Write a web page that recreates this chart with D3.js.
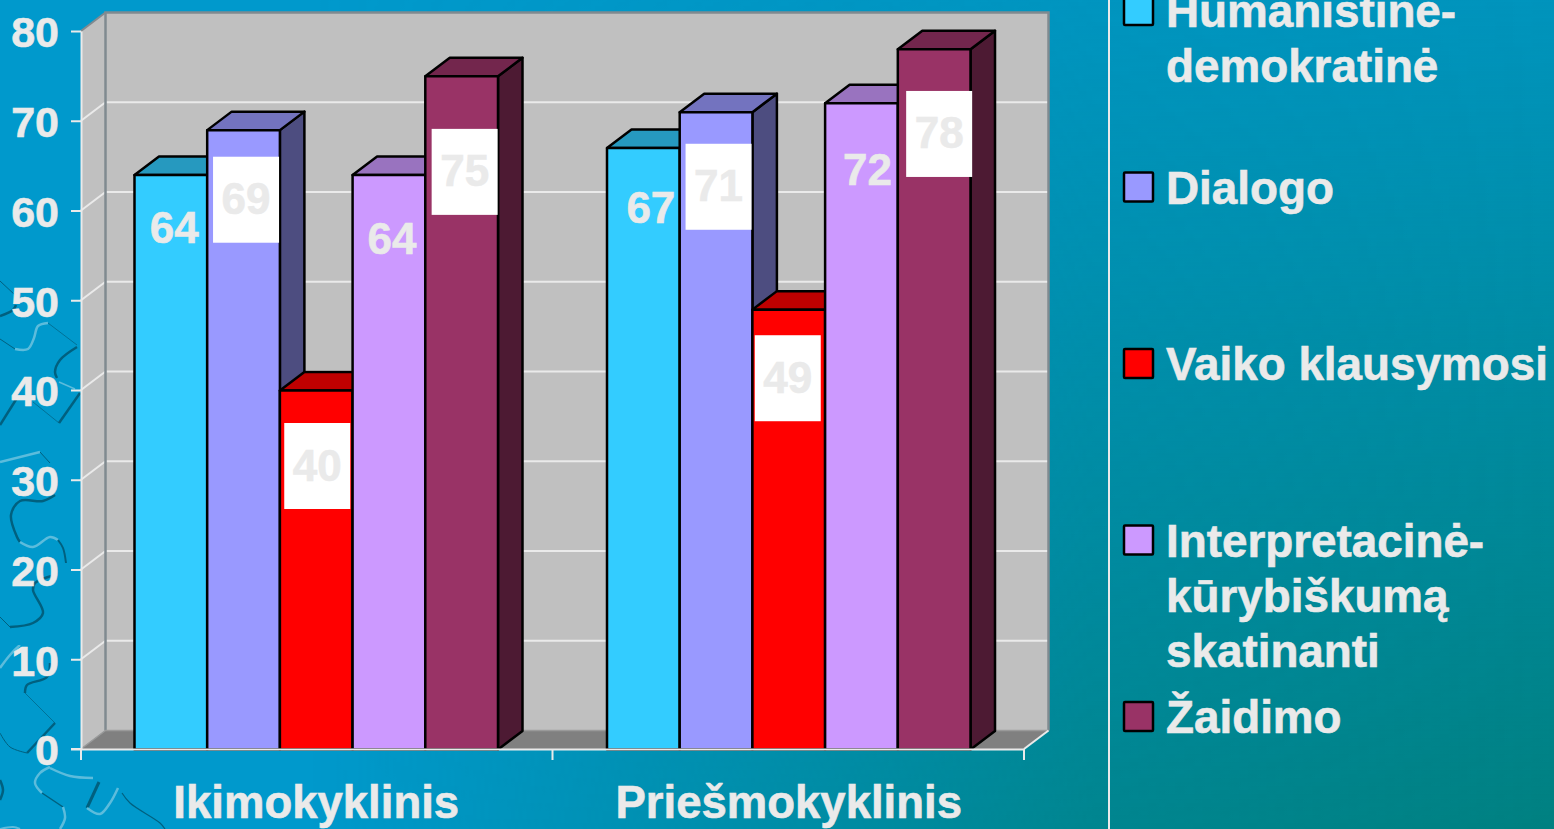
<!DOCTYPE html>
<html>

<head>
    <meta charset="utf-8">
    <style>
        html, body {
            margin: 0;
            padding: 0;
            overflow: hidden;
        }

        svg {
            display: block;
            font-family: 'Liberation Sans', Arial, sans-serif;
            font-weight: bold;
        }

        /* the reference glyphs are a bit heavier than plain bold */
        text {
            fill: #eaeaea;
            stroke: #eaeaea;
            stroke-width: 0.6px;
        }

        .y .domain, .y .tick line, .x .domain, .x .tick line {
            stroke: #eaeaea;
            stroke-width: 2px;
        }

        .y .tick text {
            font-size: 43px;
            fill: #eaeaea;
        }

        .x .tick text {
            font-size: 45.5px;
            fill: #eaeaea;
        }
    </style>
</head>

<body>
    <svg width="1554" height="829"></svg>
</body>

<script src="https://d3js.org/d3.v7.min.js"></script>

<script>
    // data
    let categories = ["Ikimokyklinis", "Priešmokyklinis"]
    let seriesNames = ["Humanistinė-demokratinė", "Dialogo", "Vaiko klausymosi", "Interpretacinė-kūrybiškumą skatinanti", "Žaidimo"]
    let ikimokyklinis = [64, 69, 40, 64, 75]
    let priesmokyklinis = [67, 71, 49, 72, 78]
    let yTicks = [0, 10, 20, 30, 40, 50, 60, 70, 80]
    let legendLines = [
        ["Humanistinė-", "demokratinė"],
        ["Dialogo"],
        ["Vaiko klausymosi"],
        ["Interpretacinė-", "kūrybiškumą", "skatinanti"],
        ["Žaidimo"]
    ]

    // styles and hand placed label offsets, kept away from the values
    let seriesColors = ["#33ccff", "#9999ff", "#ff0000", "#cc99ff", "#993366"]
    let labelOffsets = [
        [[3.5, 54], [2.5, 70], [1, 76], [3, 65], [3, 96]],
        [[7.5, 61], [2.5, 75], [-1, 69], [6, 68], [5, 85]]
    ]
    let labelBoxed = [
        [false, true, true, false, true],
        [false, true, true, false, true]
    ]

    let groupValues = [ikimokyklinis, priesmokyklinis]

    let width = 1554
    let height = 829
    let textColor = "#eaeaea"

    // plot box, front face. the back wall is moved by depth
    let plot = { left: 81, right: 1024, top: 31, bottom: 749 }
    let depth = { x: 24.5, y: 18.5 }

    let svg = d3.select("svg")
    let defs = svg.append("defs")

    // background gradient, blue top left going to teal in the lower right corner
    let gradX = defs.append("linearGradient").attr("id", "gradX")
    gradX.append("stop").attr("offset", 0.2).attr("stop-color", "#fff").attr("stop-opacity", 0)
    gradX.append("stop").attr("offset", 0.7).attr("stop-color", "#fff").attr("stop-opacity", 0.8)
    gradX.append("stop").attr("offset", 1).attr("stop-color", "#fff").attr("stop-opacity", 1)

    let gradY = defs.append("linearGradient").attr("id", "gradY")
        .attr("x1", 0).attr("x2", 0).attr("y1", 0).attr("y2", 1)
    gradY.append("stop").attr("offset", 0).attr("stop-color", "#008080").attr("stop-opacity", 0.2)
    gradY.append("stop").attr("offset", 1).attr("stop-color", "#008080").attr("stop-opacity", 1)

    defs.append("mask").attr("id", "fadeX")
        .append("rect")
        .attr("width", width)
        .attr("height", height)
        .style("fill", "url(#gradX)")

    svg.append("rect")
        .attr("width", width)
        .attr("height", height)
        .style("fill", "#0099cc")

    svg.append("rect")
        .attr("width", width)
        .attr("height", height)
        .attr("mask", "url(#fadeX)")
        .style("fill", "url(#gradY)")

    // puzzle pieces in the lower left corner of the slide
    let dark = "#00607f"
    let light = "#5cbcdc"
    let puzzle = [
        [dark, 1, [[0, 281], [15, 295]]],
        [dark, 2.5, [[0, 316], [13, 310], [16, 305]]],
        [dark, 1, [[0, 339], [15, 349]]],
        [light, 2.5, [[15, 349], [28, 349], [34, 338], [38, 326], [48, 323]]],
        [dark, 0.7, [[48, 323], [77, 345]]],
        [dark, 2.5, [[77, 347], [60, 360], [55, 372], [57, 378]]],
        [light, 1.5, [[59, 382], [75, 389]]],
        [dark, 2.5, [[80, 393], [59, 423]]],
        [dark, 0.7, [[59, 423], [33, 402]]],
        [dark, 2.5, [[17, 398], [0, 425]]],
        [light, 2.5, [[0, 462], [40, 452]]],
        [dark, 1, [[40, 452], [50, 463]]],
        [dark, 2.5, [[55, 495], [43, 501], [20, 501], [11, 515], [17, 537], [20, 542]]],
        [light, 2.5, [[20, 542], [33, 547], [50, 537], [58, 540]]],
        [dark, 2, [[58, 540], [63, 548], [66, 563]]],
        [dark, 2.5, [[55, 575], [35, 583], [33, 590], [43, 613], [33, 623], [10, 627]]],
        [dark, 1, [[0, 617], [10, 627]]],
        [light, 2.5, [[0, 668], [10, 655], [20, 645]]],
        [dark, 2.5, [[50, 663], [47, 677], [27, 685], [25, 693]]],
        [dark, 0.7, [[25, 693], [55, 723]]],
        [dark, 2.5, [[55, 723], [27, 753]]],
        [dark, 1, [[27, 753], [10, 747], [0, 733]]],
        [light, 2.5, [[50, 767], [40, 773], [35, 783], [42, 793]]],
        [dark, 1.5, [[42, 793], [63, 807]]],
        [light, 2.5, [[63, 807], [65, 818], [60, 829]]],
        [light, 2.5, [[50, 768], [70, 776], [93, 778]]],
        [dark, 3, [[99, 782], [87, 808]]],
        [light, 2.5, [[87, 808], [100, 814], [110, 803], [118, 788]]],
        [dark, 1.2, [[122, 793], [130, 803], [160, 823], [165, 829]]],
        [dark, 2.5, [[0, 780], [3, 790], [0, 800]]],
        [light, 2, [[0, 829], [13, 827], [20, 829]]]
    ]

    let puzzleLine = d3.line().curve(d3.curveCatmullRom)

    svg.append("g")
        .selectAll("path")
        .data(puzzle)
        .join("path")
        .attr("d", d => puzzleLine(d[2]))
        .style("fill", "none")
        .style("stroke", d => d[0])
        .style("stroke-width", d => d[1])

    // scales
    let y = d3.scaleLinear()
        .domain([0, 80])
        .range([plot.bottom, plot.top])

    let xGroup = d3.scaleBand()
        .domain(categories)
        .range([plot.left, plot.right])
        .paddingInner(0.2307)
        .paddingOuter(0.1132)

    let xBar = d3.scaleBand()
        .domain(seriesNames)
        .range([0, xGroup.bandwidth()])

    // walls and floor
    let poly = pts => "M" + pts.join("L") + "Z"
    let walls = svg.append("g")

    walls.append("path")
        .attr("d", poly([[plot.left, plot.top], [plot.left + depth.x, plot.top - depth.y], [plot.left + depth.x, plot.bottom - depth.y], [plot.left, plot.bottom]]))
        .style("fill", "#c0c0c0")

    walls.append("rect")
        .attr("x", plot.left + depth.x)
        .attr("y", plot.top - depth.y)
        .attr("width", plot.right - plot.left)
        .attr("height", plot.bottom - plot.top)
        .style("fill", "#c0c0c0")

    // gridlines on back and side wall
    let grid = svg.append("g")
    grid.selectAll(".back")
        .data(yTicks.slice(1, -1))
        .join("line")
        .attr("class", "back")
        .attr("x1", plot.left + depth.x)
        .attr("x2", plot.right + depth.x)
        .attr("y1", d => y(d) - depth.y)
        .attr("y2", d => y(d) - depth.y)
        .style("stroke", textColor)
        .style("stroke-width", "2px")

    grid.selectAll(".side")
        .data(yTicks.slice(1, -1))
        .join("line")
        .attr("class", "side")
        .attr("x1", plot.left)
        .attr("x2", plot.left + depth.x)
        .attr("y1", d => y(d))
        .attr("y2", d => y(d) - depth.y)
        .style("stroke", textColor)
        .style("stroke-width", "2px")

    walls.append("path")
        .attr("d", poly([[plot.left, plot.bottom], [plot.left + depth.x, plot.bottom - depth.y], [plot.right + depth.x, plot.bottom - depth.y], [plot.right, plot.bottom]]))
        .style("fill", "#808080")

    // wall edges
    let edges = svg.append("g")
        .style("fill", "none")
        .style("stroke", "#808a90")

    edges.append("path")
        .attr("d", d3.line()([[plot.left + depth.x, plot.bottom - depth.y], [plot.left + depth.x, plot.top - depth.y], [plot.right + depth.x, plot.top - depth.y], [plot.right + depth.x, plot.bottom - depth.y]]))
        .style("stroke-width", "2.5px")

    edges.append("path")
        .attr("d", d3.line()([[plot.left, plot.top], [plot.left + depth.x, plot.top - depth.y]]))
        .style("stroke-width", "2px")

    edges.append("path")
        .attr("d", d3.line()([[plot.left, plot.bottom], [plot.left + depth.x, plot.bottom - depth.y], [plot.right + depth.x, plot.bottom - depth.y]]))
        .style("stroke", "#9a9a9a")
        .style("stroke-width", "1.5px")

    // bars, one group per category. left to right so later bars cover earlier sides
    let bars = svg.append("g")
        .selectAll("g")
        .data(categories)
        .join("g")
        .attr("transform", d => `translate(${xGroup(d)},0)`)

    let barData = (c, i) => seriesNames.map((name, j) => ({ name, j, value: groupValues[i][j] }))

    // the bars sit a touch lower than the axis ticks in the original
    let oneBar = bars.selectAll(".bar")
        .data(barData)
        .join("g")
        .attr("class", "bar")
        .attr("transform", "translate(0,0.4)")
        .style("stroke", "#000")
        .style("stroke-width", "2.5px")
        .style("stroke-linejoin", "round")

    oneBar.append("path")
        .attr("d", d => {
            let x1 = xBar(d.name) + xBar.bandwidth()
            return poly([[x1, y(d.value)], [x1 + depth.x, y(d.value) - depth.y], [x1 + depth.x, y(0) - depth.y], [x1, y(0)]])
        })
        .style("fill", d => shade(seriesColors[d.j], 0.5))

    oneBar.append("path")
        .attr("d", d => {
            let x0 = xBar(d.name)
            let x1 = x0 + xBar.bandwidth()
            return poly([[x0, y(d.value)], [x0 + depth.x, y(d.value) - depth.y], [x1 + depth.x, y(d.value) - depth.y], [x1, y(d.value)]])
        })
        .style("fill", d => shade(seriesColors[d.j], 0.75))

    oneBar.append("rect")
        .attr("x", d => xBar(d.name))
        .attr("y", d => y(d.value))
        .attr("width", xBar.bandwidth())
        .attr("height", d => y(0) - y(d.value))
        .style("fill", d => seriesColors[d.j])

    function shade(color, k) {
        let c = d3.rgb(color)
        return d3.rgb(c.r * k, c.g * k, c.b * k).formatHex()
    }

    // axes
    let yAxisSettings = d3.axisLeft(y)
        .tickValues(yTicks)
        .tickSize(10)
        .tickSizeOuter(0)
        .tickPadding(12)

    svg.append("g")
        .attr("class", "y axis")
        .attr("transform", `translate(${plot.left},0)`)
        .call(yAxisSettings)
        .selectAll("text")
        .attr("dy", "0.37em")

    let xAxisSettings = d3.axisBottom(xGroup)
        .tickSize(0)
        .tickPadding(37)

    svg.append("g")
        .attr("class", "x axis")
        .attr("transform", `translate(0,${plot.bottom})`)
        .call(xAxisSettings)

    // ticks sit between the groups, not under them
    let boundary = [plot.left, (plot.left + plot.right) / 2, plot.right]
    svg.append("g")
        .selectAll("line")
        .data(boundary)
        .join("line")
        .attr("x1", d => d)
        .attr("x2", d => d)
        .attr("y1", plot.bottom)
        .attr("y2", plot.bottom + 11)
        .style("stroke", textColor)
        .style("stroke-width", "2px")

    svg.append("line")
        .attr("x1", plot.left - 10)
        .attr("x2", plot.left)
        .attr("y1", plot.bottom)
        .attr("y2", plot.bottom)
        .style("stroke", textColor)
        .style("stroke-width", "2px")

    svg.append("line")
        .attr("x1", plot.right)
        .attr("x2", plot.right + depth.x)
        .attr("y1", plot.bottom)
        .attr("y2", plot.bottom - depth.y)
        .style("stroke", textColor)
        .style("stroke-width", "2px")

    // data labels, some have a white box behind
    let labels = bars.selectAll(".label")
        .data(barData)
        .join("g")
        .attr("class", "label")
        .attr("transform", function (d) {
            let i = categories.indexOf(d3.select(this.parentNode).datum())
            let off = labelOffsets[i][d.j]
            d.boxed = labelBoxed[i][d.j]
            return `translate(${xBar(d.name) + xBar.bandwidth() / 2 + off[0]},${y(d.value) + off[1]})`
        })

    labels.filter(d => d.boxed)
        .append("rect")
        .attr("x", -33)
        .attr("y", -43)
        .attr("width", 66)
        .attr("height", 86)
        .style("fill", "#fff")

    labels.append("text")
        .attr("text-anchor", "middle")
        .attr("dy", "0.33em")
        .style("font-size", "44px")
        .text(d => d.value)

    // legend
    svg.append("line")
        .attr("x1", 1109)
        .attr("x2", 1109)
        .attr("y1", 0)
        .attr("y2", height)
        .style("stroke", textColor)
        .style("stroke-width", "2px")

    let legendY = d3.scalePoint()
        .domain(seriesNames)
        .range([-4, 702])

    let legend = svg.append("g")
        .selectAll("g")
        .data(seriesNames)
        .join("g")
        .attr("transform", d => `translate(1124,${legendY(d)})`)

    legend.append("rect")
        .attr("width", 29)
        .attr("height", 29)
        .attr("rx", 1)
        .style("fill", (d, i) => seriesColors[i])
        .style("stroke", "#000")
        .style("stroke-width", "2.5px")

    legend.selectAll("text")
        .data((d, i) => legendLines[i])
        .join("text")
        .attr("x", 42)
        .attr("y", (d, i) => 31 + i * 55)
        .style("font-size", "45.8px")
        .text(d => d)
</script>

</html>
